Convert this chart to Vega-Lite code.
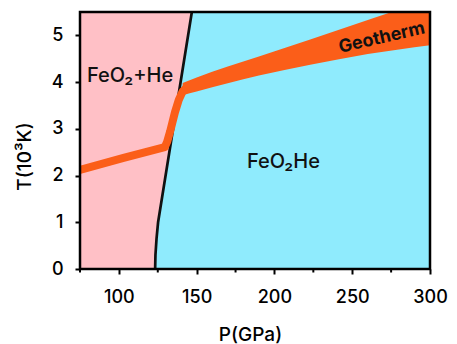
{
  "$schema": "https://vega.github.io/schema/vega-lite/v6.json",
  "width": 350,
  "height": 257,
  "autosize": {"type": "none"},
  "padding": {"left": 80, "top": 12, "right": 27, "bottom": 75},
  "background": "white",
  "config": {"view": {"fill": "#FFC0C6", "stroke": null}, "font": "Inter"},
  "datasets": {
    "boundary": [
      {"P": 123.3, "T": 0},
      {"P": 123.5, "T": 0.3},
      {"P": 124.2, "T": 0.65},
      {"P": 125.2, "T": 1.0},
      {"P": 146.9, "T": 5.5}
    ],
    "geoline": [
      {"P": 75, "T": 2.12},
      {"P": 103, "T": 2.38},
      {"P": 129.5, "T": 2.61},
      {"P": 131, "T": 2.72},
      {"P": 133, "T": 2.95},
      {"P": 136, "T": 3.35},
      {"P": 138.5, "T": 3.62},
      {"P": 141, "T": 3.8},
      {"P": 143, "T": 3.87}
    ],
    "geoband": [
      {"P": 141, "lo": 3.72, "hi": 3.98},
      {"P": 150, "lo": 3.8, "hi": 4.1},
      {"P": 190, "lo": 4.14, "hi": 4.55},
      {"P": 223, "lo": 4.37, "hi": 4.91},
      {"P": 260, "lo": 4.6, "hi": 5.33},
      {"P": 300, "lo": 4.79, "hi": 5.77}
    ],
    "minorx": [
      {"P": 75}, {"P": 125}, {"P": 175}, {"P": 225}, {"P": 275}
    ],
    "labels": [
      {"P": 107.2, "T": 4.12, "label": "FeO₂+He"},
      {"P": 205.8, "T": 2.29, "label": "FeO₂He"}
    ],
    "geolabel": [
      {"P": 269, "T": 4.94, "label": "Geotherm"}
    ]
  },
  "layer": [
    {
      "data": {"name": "boundary"},
      "mark": {"type": "area", "orient": "horizontal", "color": "#8FEBFD"},
      "encoding": {
        "y": {
          "field": "T", "type": "quantitative",
          "scale": {"domain": [0, 5.5], "nice": false, "zero": false},
          "axis": {
            "title": "T(10³K)",
            "values": [0, 0.5, 1, 1.5, 2, 2.5, 3, 3.5, 4, 4.5, 5],
            "labelExpr": "datum.value % 1 === 0 ? datum.label : ''",
            "tickSize": {"condition": {"test": "datum.value % 1 === 0", "value": 5}, "value": 3},
            "tickWidth": 2,
            "tickColor": "black",
            "domain": false,
            "grid": false,
            "labelFontSize": 18,
            "labelFontWeight": 500,
            "labelColor": "black",
            "labelPadding": 12,
            "labelOverlap": false,
            "labelFlush": false,
            "titleFontSize": 19,
            "titleFontWeight": 500,
            "titleColor": "black",
            "titleAngle": 270,
            "titleX": -50,
            "titleY": 144,
            "titleAlign": "center",
            "titleBaseline": "alphabetic",
            "zindex": 1
          }
        },
        "x": {
          "field": "P", "type": "quantitative",
          "scale": {"domain": [75, 300], "nice": false, "zero": false},
          "axis": {
            "title": "P(GPa)",
            "tickCount": 5,
            "tickSize": 5,
            "tickWidth": 2,
            "tickColor": "black",
            "domain": false,
            "grid": false,
            "labelFontSize": 18,
            "labelFontWeight": 500,
            "labelColor": "black",
            "labelPadding": 14,
            "labelOverlap": false,
            "labelFlush": false,
            "titleFontSize": 19,
            "titleFontWeight": 500,
            "titleColor": "black",
            "titleX": 170,
            "titleY": 71,
            "titleBaseline": "alphabetic",
            "zindex": 1
          }
        },
        "x2": {"datum": 300}
      }
    },
    {
      "data": {"name": "boundary"},
      "mark": {"type": "line", "color": "#111111", "strokeWidth": 2.7, "clip": true},
      "encoding": {
        "x": {"field": "P", "type": "quantitative"},
        "y": {"field": "T", "type": "quantitative"}
      }
    },
    {
      "data": {"name": "geoband"},
      "mark": {"type": "area", "color": "#FB5E19", "clip": true, "interpolate": "monotone"},
      "encoding": {
        "x": {"field": "P", "type": "quantitative"},
        "y": {"field": "lo", "type": "quantitative"},
        "y2": {"field": "hi"}
      }
    },
    {
      "data": {"name": "geoline"},
      "mark": {"type": "line", "color": "#FB5E19", "strokeWidth": 8, "strokeJoin": "round", "clip": true},
      "encoding": {
        "x": {"field": "P", "type": "quantitative"},
        "y": {"field": "T", "type": "quantitative"}
      }
    },
    {
      "data": {"name": "minorx"},
      "mark": {"type": "tick", "orient": "vertical", "size": 4, "thickness": 2, "color": "black", "opacity": 1, "yOffset": 1.5},
      "encoding": {
        "x": {"field": "P", "type": "quantitative"},
        "y": {"datum": 0}
      }
    },
    {
      "data": {"values": [{}]},
      "mark": {"type": "rect", "fill": null, "stroke": "black", "strokeWidth": 2.5},
      "encoding": {
        "x": {"datum": 75},
        "x2": {"datum": 300},
        "y": {"datum": 0},
        "y2": {"datum": 5.5}
      }
    },
    {
      "data": {"name": "labels"},
      "mark": {"type": "text", "fontSize": 20, "fontWeight": 500, "color": "#111111", "align": "center", "baseline": "middle"},
      "encoding": {
        "x": {"field": "P", "type": "quantitative"},
        "y": {"field": "T", "type": "quantitative"},
        "text": {"field": "label"}
      }
    },
    {
      "data": {"name": "geolabel"},
      "mark": {"type": "text", "fontSize": 18, "fontWeight": "bold", "color": "#111111", "align": "center", "baseline": "middle", "angle": 347},
      "encoding": {
        "x": {"field": "P", "type": "quantitative"},
        "y": {"field": "T", "type": "quantitative"},
        "text": {"field": "label"}
      }
    }
  ]
}
